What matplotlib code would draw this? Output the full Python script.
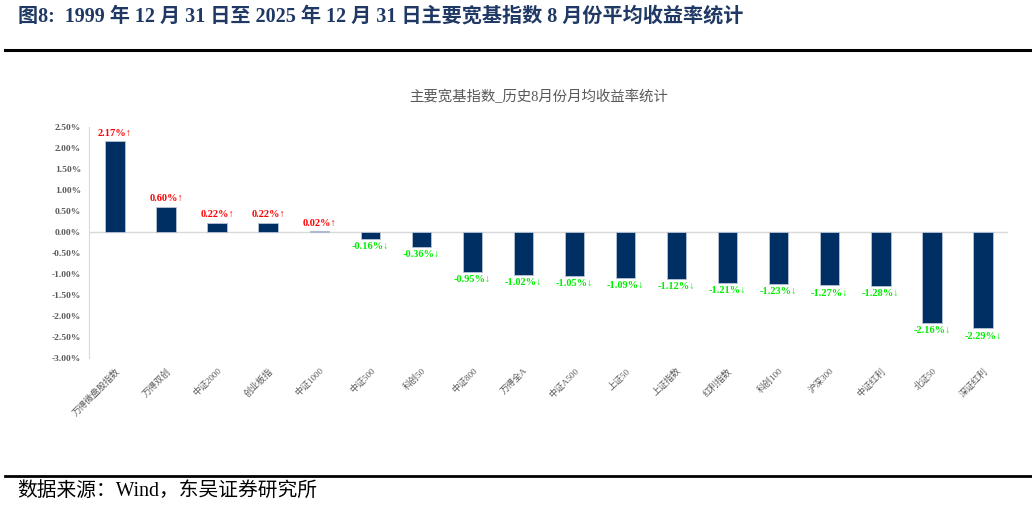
import matplotlib
matplotlib.use('Agg')
import matplotlib.pyplot as plt
from matplotlib.lines import Line2D
from matplotlib.ticker import FuncFormatter

plt.rcParams['font.family'] = ['Liberation Serif', 'Noto Sans CJK SC', 'DejaVu Sans']

# data
indices = ['万得微盘股指数', '万得双创', '中证2000', '创业板指', '中证1000', '中证500',
           '科创50', '中证800', '万得全A', '中证A500', '上证50', '上证指数',
           '红利指数', '科创100', '沪深300', '中证红利', '北证50', '深证红利']
avg_returns = [2.17, 0.60, 0.22, 0.22, 0.02, -0.16, -0.36, -0.95, -1.02, -1.05,
               -1.09, -1.12, -1.21, -1.23, -1.27, -1.28, -2.16, -2.29]
y_ticks = [2.5, 2.0, 1.5, 1.0, 0.5, 0.0, -0.5, -1.0, -1.5, -2.0, -2.5, -3.0]

fig = plt.figure(figsize=(10.32, 5.05), dpi=100)
ax = fig.add_axes([0.0867, 0.2911, 0.8905, 0.4574])

x = range(len(indices))
ax.bar(x, avg_returns, width=0.38, color='#003063', edgecolor='#b8c4d6', linewidth=0.6, zorder=3)
ax.axhline(0, color='#d9d9d9', linewidth=1.0, zorder=2)

for i, v in enumerate(avg_returns):
    if v >= 0:
        ax.text(i, v + 0.08, f'{v:.2f}%↑', ha='center', va='bottom', color='#ff0000',
                fontsize=7.5, fontweight='bold')
    else:
        ax.text(i, v - 0.08, f'{v:.2f}%↓', ha='center', va='top', color='#00ee00',
                fontsize=7.5, fontweight='bold')

ax.set_xlim(-0.5, len(indices) - 0.5)
ax.set_ylim(-3.0, 2.5)
ax.set_yticks(y_ticks)
ax.yaxis.set_major_formatter(FuncFormatter(lambda v, p: f'{v:.2f}%'))
for lab in ax.get_yticklabels():
    lab.set_fontweight('bold')
ax.tick_params(axis='y', length=0, labelsize=6.8, labelcolor='#595959', pad=6)
ax.set_xticks(list(x))
ax.set_xticklabels(indices, rotation=45, ha='right', va='top', rotation_mode='anchor',
                   fontsize=6.5, color='#595959')
ax.tick_params(axis='x', length=0, pad=6)

for s in ['top', 'right', 'bottom']:
    ax.spines[s].set_visible(False)
ax.spines['left'].set_color('#d9d9d9')
ax.spines['left'].set_bounds(-3.0, 2.5)

# titles and frame lines
fig.text(0.017, 0.968, '图8:  1999 年 12 月 31 日至 2025 年 12 月 31 日主要宽基指数 8 月份平均收益率统计',
         ha='left', va='center', fontsize=14.5, fontweight='bold', color='#1f3864')
fig.add_artist(Line2D([0.005, 1.0], [0.901, 0.901], color='black', linewidth=2.2))
fig.text(0.5215, 0.808, '主要宽基指数_历史8月份月均收益率统计', ha='center', va='center',
         fontsize=10.4, color='#595959')
fig.add_artist(Line2D([0.005, 1.0], [0.057, 0.057], color='black', linewidth=2.0))
fig.text(0.017, 0.027, '数据来源：Wind，东吴证券研究所', ha='left', va='center',
         fontsize=14.2, color='black')

fig.savefig('out.png', dpi=100)
